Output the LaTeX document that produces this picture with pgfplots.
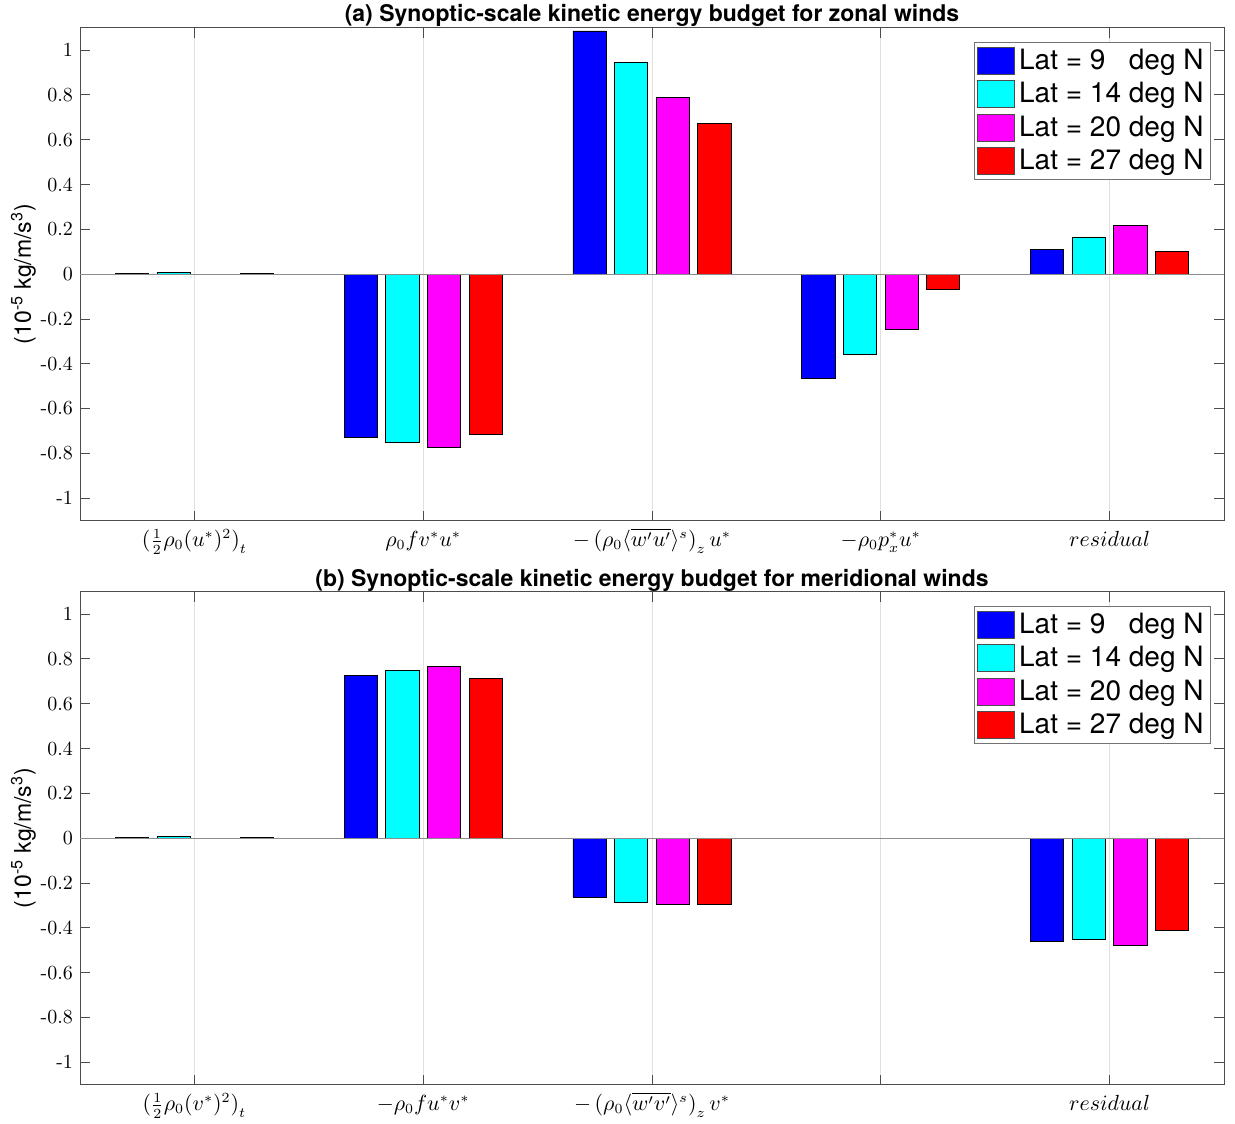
\documentclass[border=0pt]{standalone}
\usepackage{pgfplots}
\pgfplotsset{compat=1.18}
\usepackage{pgfplotstable}
\usepackage{fontspec}
\setsansfont{TeX Gyre Heros}

\definecolor{mblue}{rgb}{0,0,1}
\definecolor{mcyan}{rgb}{0,1,1}
\definecolor{mmagenta}{rgb}{1,0,1}
\definecolor{mred}{rgb}{1,0,0}

\pgfplotstableread{
cat l9 l14 l20 l27
1 0.004 0.009 -0.002 0.002
2 -0.728 -0.750 -0.772 -0.714
3 1.085 0.946 0.790 0.674
4 -0.464 -0.357 -0.246 -0.067
5 0.112 0.165 0.219 0.103
}\dataA

\pgfplotstableread{
cat l9 l14 l20 l27
1 0.003 0.008 -0.001 0.001
2 0.726 0.748 0.766 0.713
3 -0.263 -0.285 -0.294 -0.298
5 -0.463 -0.454 -0.477 -0.414
}\dataB

\pgfplotsset{
  mybar/.style={ybar, fill=#1, draw=black, line width=0.4pt,
    legend image code/.code={\draw[fill=#1, draw=black!70, line width=0.4pt] (0pt,-6.75pt) rectangle (18.5pt,6.75pt);}},
  budget/.style={
    scale only axis, width=572pt, height=246.5pt,
    anchor=north west,
    xmin=0.5, xmax=5.5, ymin=-1.1, ymax=1.1,
    ybar, bar width=0.145,
    xtick={1,2,3,4,5},
    ytick={-1,-0.8,-0.6,-0.4,-0.2,0,0.2,0.4,0.6,0.8,1},
    yticklabel style={/pgf/number format/fixed, /pgf/number format/precision=1,
      /pgf/number format/assume math mode=true, font=\fontsize{10}{12}\selectfont},
    xticklabel style={font=\fontsize{10.5}{12}\selectfont, text height=9.5pt, text depth=4pt, anchor=north},
    tick align=inside, major tick length=5pt,
    xmajorgrids, grid style={black!12, line width=0.4pt},
    axis line style={black!70, line width=0.4pt},
    tick style={black!70, line width=0.4pt},
    ylabel={(10\textsuperscript{-5} kg/m/s\textsuperscript{3})},
    ylabel style={font=\sffamily\fontsize{11.5}{13}\selectfont},
    ylabel shift=-4.5pt,
    every axis title shift=0pt,
    title style={font=\sffamily\bfseries\fontsize{11.5}{13}\selectfont, at={(0.5,1)}, anchor=base, yshift=2.8pt},
    legend style={at={(1,1)}, anchor=north east, xshift=-6.5pt, yshift=-7pt,
      font=\sffamily\fontsize{14}{16}\selectfont, draw=black!55, line width=0.4pt,
      inner sep=1.5pt, row sep=1pt,
      /tikz/every even column/.append style={column sep=1.5pt}},
    legend cell align=left,
  }
}

\begin{document}
\begin{tikzpicture}
\begin{axis}[budget, at={(0,0)},
  title={(a) Synoptic-scale kinetic energy budget for zonal winds},
  xticklabels={{$\bigl(\frac{1}{2}\rho_0(u^*)^2\bigr)_t$},{$\rho_0 f v^* u^*$},{$-\,\bigl(\rho_0\langle\overline{w'u'}\rangle^s\bigr)_z\, u^*$},{$-\rho_0 p_x^* u^*$},{$residual$}}]
\addplot[mybar=mblue, bar shift=-0.273] table[x=cat, y=l9] {\dataA};
\addplot[mybar=mcyan, bar shift=-0.091] table[x=cat, y=l14] {\dataA};
\addplot[mybar=mmagenta, bar shift=0.091] table[x=cat, y=l20] {\dataA};
\addplot[mybar=mred, bar shift=0.273] table[x=cat, y=l27] {\dataA};
\draw[black!45, line width=0.5pt] (axis cs:0.5,0) -- (axis cs:5.5,0);
\legend{{Lat = 9\hphantom{0} deg N},{Lat = 14 deg N},{Lat = 20 deg N},{Lat = 27 deg N}}
\end{axis}
\begin{axis}[budget, at={(0,-282pt)},
  title={(b) Synoptic-scale kinetic energy budget for meridional winds},
  xticklabels={{$\bigl(\frac{1}{2}\rho_0(v^*)^2\bigr)_t$},{$-\rho_0 f u^* v^*$},{$-\,\bigl(\rho_0\langle\overline{w'v'}\rangle^s\bigr)_z\, v^*$},{},{$residual$}}]
\addplot[mybar=mblue, bar shift=-0.273] table[x=cat, y=l9] {\dataB};
\addplot[mybar=mcyan, bar shift=-0.091] table[x=cat, y=l14] {\dataB};
\addplot[mybar=mmagenta, bar shift=0.091] table[x=cat, y=l20] {\dataB};
\addplot[mybar=mred, bar shift=0.273] table[x=cat, y=l27] {\dataB};
\draw[black!45, line width=0.5pt] (axis cs:0.5,0) -- (axis cs:5.5,0);
\legend{{Lat = 9\hphantom{0} deg N},{Lat = 14 deg N},{Lat = 20 deg N},{Lat = 27 deg N}}
\end{axis}
\pgfresetboundingbox
\path[use as bounding box] (-40pt,13.8pt) rectangle (577.5pt,-547.7pt);
\end{tikzpicture}
\end{document}
